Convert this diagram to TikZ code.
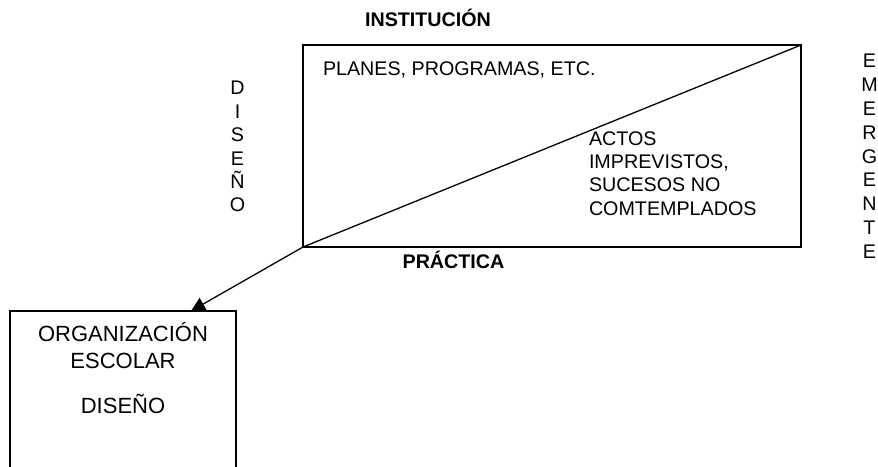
\documentclass[tikz,border=0pt]{standalone}
\usepackage{fontspec}
\setmainfont{Liberation Sans}
\usetikzlibrary{arrows.meta}
\tikzset{
  txt/.style={inner sep=0pt, outer sep=0pt, font=\fontsize{19.7}{23.3}\selectfont},
  btxt/.style={txt, font=\fontsize{19.7}{23.3}\selectfont\bfseries},
  colA/.style={txt, align=center, font=\fontsize{19.7}{23.35}\selectfont},
  colB/.style={txt, align=center, font=\fontsize{19.7}{23.8}\selectfont},
  bigtxt/.style={inner sep=0pt, outer sep=0pt, align=center, font=\fontsize{22}{26.3}\selectfont},
  frame/.style={draw=black, line width=1.4pt},
  link/.style={line width=1.3pt, -{Triangle[length=14pt,width=14pt]}}
}
\begin{document}
\begin{tikzpicture}[x=1pt,y=-1pt]
\useasboundingbox[fill=white] (0,0) rectangle (878,466);
% main rectangle
\node[frame, inner sep=0pt, outer sep=0pt, minimum width=498pt, minimum height=202pt, anchor=north west] (inst) at (303,45) {};
\draw[line width=1.3pt] (inst.south west) -- (inst.north east);
% labels
\node[btxt, anchor=base] (tinst) at (428,26.7) {INSTITUCIÓN};
\node[btxt, anchor=base] (tprac) at (453.5,268) {PRÁCTICA};
\node[txt, anchor=base west] (planes) at (323,75) {PLANES, PROGRAMAS, ETC.};
\node[txt, anchor=base west, align=left] (actos) at (589,215) {ACTOS\\IMPREVISTOS,\\SUCESOS NO\\COMTEMPLADOS};
\node[colA, anchor=base] (disv) at (237.5,211.7) {D\\I\\S\\E\\Ñ\\O};
\node[colB, anchor=base] (emer) at (869.5,258.3) {E\\M\\E\\R\\G\\E\\N\\T\\E};
% arrow and lower box
\coordinate (tip) at (191,311);
\draw[link] (inst.south west) -- (tip);
\node[inner sep=0pt, outer sep=0pt, fill=white, minimum width=226pt, minimum height=160pt, anchor=north west] (org) at (10,311) {};
\draw[frame] (org.south west) -- (org.north west) -- (org.north east) -- (org.south east);
\node[bigtxt, anchor=base] (orgtxt) at (123,413) {ORGANIZACIÓN\\ESCOLAR\\[18.7pt]DISEÑO};
\end{tikzpicture}
\end{document}
